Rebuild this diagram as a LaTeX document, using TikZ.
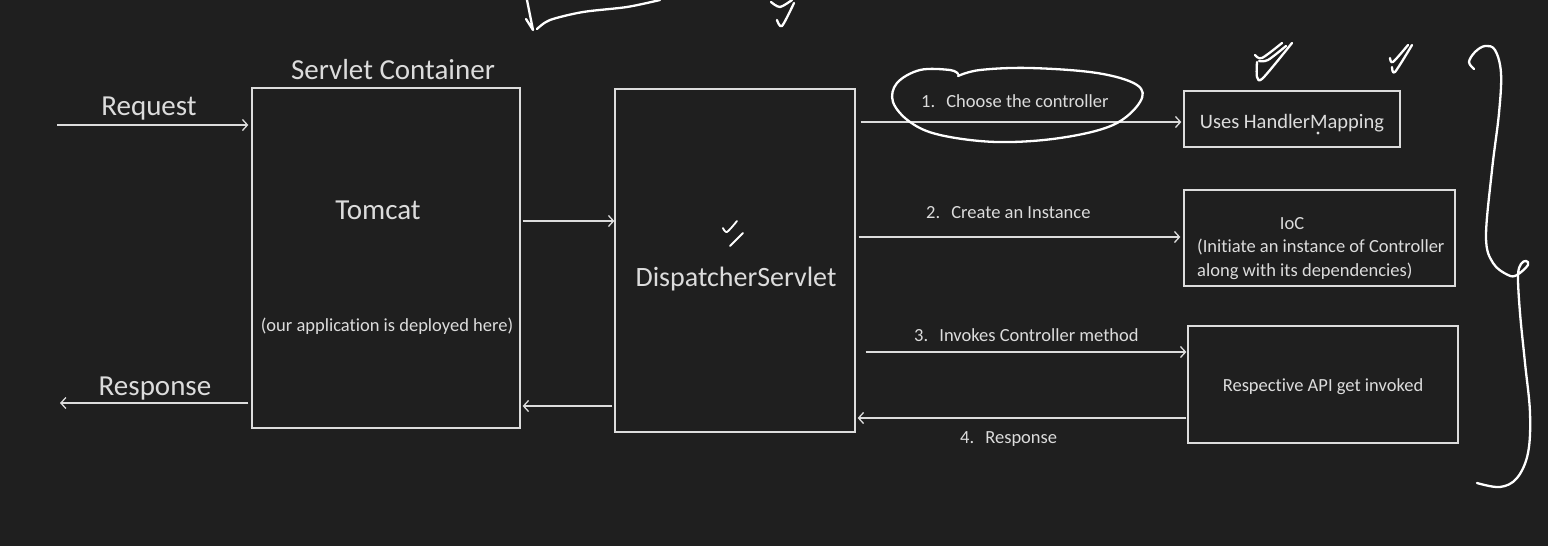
\documentclass[tikz,border=0pt]{standalone}
\usepackage{fontspec}
\setmainfont{Carlito}[Ligatures=NoCommon]
\usetikzlibrary{arrows.meta}

\definecolor{board}{HTML}{1F1F1F}
\definecolor{chalk}{HTML}{DCDCDC}

\tikzset{
  box/.style={draw=chalk, line width=1.3pt, inner sep=0pt},
  big/.style={text=chalk, anchor=base, inner sep=0pt, font=\fontsize{29}{34}\selectfont},
  small/.style={text=chalk, anchor=base, inner sep=0pt, font=\fontsize{18.5}{22}\selectfont},
  flow/.style={draw=chalk, line width=1.3pt, -{Straight Barb[length=5pt,width=11pt]}},
  hand/.style={draw=white, line width=2.3pt, line cap=round, line join=round},
}

\begin{document}
\begin{tikzpicture}[x=1pt,y=-1pt]
\fill[board] (0,0) rectangle (1548,546);
\useasboundingbox (0,0) rectangle (1548,546);

% boxes
\node[box, minimum width=268pt, minimum height=340pt] (tomcat) at (386,258) {};
\node[box, minimum width=240pt, minimum height=343pt] (disp) at (735,260.5) {};
\node[box, minimum width=216pt, minimum height=56pt] (hmap) at (1292,119) {};
\node[box, minimum width=271pt, minimum height=96pt] (ioc) at (1319.5,238) {};
\node[box, minimum width=270pt, minimum height=117pt] (api) at (1323,384.5) {};

% texts
\node[big] (sc) at (393,79) {Servlet Container};
\node[big] (reqtxt) at (149,115) {Request};
\node[big] (resptxt) at (155,395) {Response};
\node[big] (tc) at (378,219) {Tomcat};
\node[small] (deploy) at (387,331) {(our application is deployed here)};
\node[big, font=\fontsize{28}{34}\selectfont] (ds) at (736,286) {DispatcherServlet};
\node[small, font=\fontsize{20.5}{24}\selectfont] (hm) at (1292,128) {Uses HandlerMapping};
\node[small] (ioct) at (1292,229) {IoC};
\node[small, anchor=base west] (ioc1) at (1197,252) {(Initiate an instance of Controller};
\node[small, anchor=base west] (ioc2) at (1197,276) {along with its dependencies)};
\node[small] (apit) at (1323,391) {Respective API get invoked};

\node[small, anchor=base west] (s1) at (921,107) {1.\hspace{0.6em}Choose the controller};
\node[small, anchor=base west] (s2) at (926,218) {2.\hspace{0.6em}Create an Instance};
\node[small, anchor=base west] (s3) at (914,341) {3.\hspace{0.6em}Invokes Controller method};
\node[small, anchor=base west] (s4) at (960,443) {4.\hspace{0.6em}Response};

% connectors
\coordinate (req) at (57,125);
\coordinate (resp) at (60,403);
\coordinate (fwd) at (0,221);
\coordinate (back) at (0,406);
\coordinate (a1) at (0,122);
\coordinate (a2) at (0,237);
\coordinate (a3) at (0,352);
\coordinate (a4) at (0,418);

\draw[flow, shorten >=3pt] (req) -- (tomcat.west |- req);
\draw[flow, shorten <=3pt] (tomcat.west |- resp) -- (resp);
\draw[flow, shorten <=2pt] (tomcat.east |- fwd) -- (disp.west |- fwd);
\draw[flow, shorten <=2pt, shorten >=2pt] (disp.west |- back) -- (tomcat.east |- back);
\draw[flow, shorten <=5pt, shorten >=2pt] (disp.east |- a1) -- (hmap.west |- a1);
\draw[flow, shorten <=3pt, shorten >=3pt] (disp.east |- a2) -- (ioc.west |- a2);
\draw[flow, shorten <=10pt, shorten >=1pt] (disp.east |- a3) -- (api.west |- a3);
\draw[flow, shorten <=1pt, shorten >=2pt] (api.west |- a4) -- (disp.east |- a4);

% hand drawn marks
\draw[hand] plot[smooth, tension=0.6] coordinates {(958,74) (950,70) (920,70) (897,83) (893,102) (910,122) (940,135) (997,142) (1060,138) (1113,125) (1140,102) (1137,85) (1097,73) (1030,68) (980,70) (958,76)};
\draw[hand] plot[smooth, tension=0.6] coordinates {(1474,69) (1469,62) (1475,52) (1485,46) (1495,50) (1501,73) (1499,113) (1492,170) (1486,237) (1493,263) (1508,275) (1517,275) (1528,265) (1526,261) (1521,264) (1518,276) (1520,313) (1525,363) (1530,413) (1528,453) (1517,478) (1500,487) (1477,483)};
\draw[hand] (527,0) -- (533,30) (526,19) -- (533,30);
\draw[hand] plot[smooth] coordinates {(537,29) (550,20) (583,12) (627,7) (660,0)};
\draw[hand] plot[smooth] coordinates {(771,2) (780,7) (792,0)};
\draw[hand] plot[smooth] coordinates {(777,20) (782,26) (794,3)};
% double ticks
\draw[hand] plot[smooth] coordinates {(1255,55) (1262,58) (1282,43)};
\draw[hand] plot[smooth] coordinates {(1259,61) (1268,60) (1286,46)};
\draw[hand] plot[smooth] coordinates {(1257,62) (1257,77) (1263,78) (1292,43)};
\draw[hand] plot[smooth] coordinates {(1390,58) (1393,62) (1408,45)};
\draw[hand] plot[smooth] coordinates {(1392,67) (1395,72) (1412,45)};
\draw[hand, line width=1.8pt] plot[smooth] coordinates {(723,228) (727,232) (737,221)};
\draw[hand, line width=1.8pt] (730,246) -- (743,233);
\fill[chalk] (1318,133) circle (1.6);
\end{tikzpicture}
\end{document}
